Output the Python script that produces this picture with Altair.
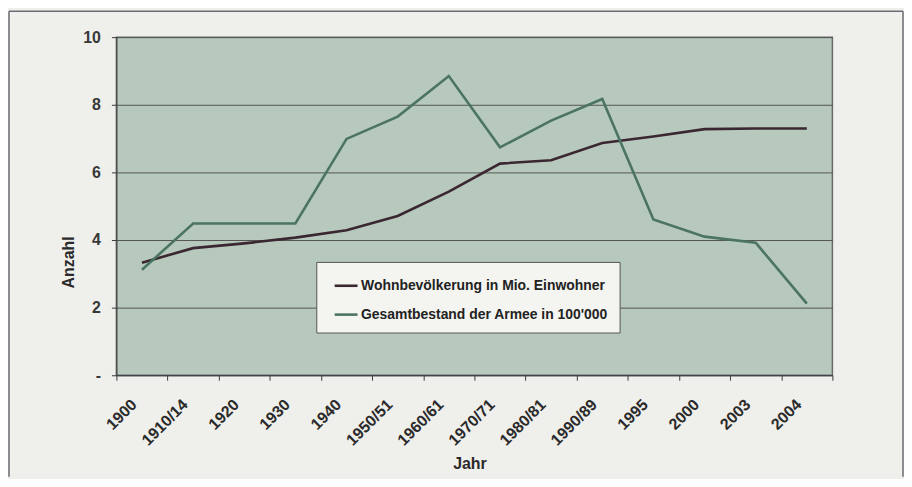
import altair as alt
import pandas as pd

years = ["1900", "1910/14", "1920", "1930", "1940", "1950/51", "1960/61",
         "1970/71", "1980/81", "1990/89", "1995", "2000", "2003", "2004"]
bevoelkerung = [3.33, 3.76, 3.90, 4.07, 4.29, 4.71, 5.43, 6.26, 6.36, 6.87, 7.06, 7.28, 7.30, 7.30]
armee = [3.12, 4.49, 4.49, 4.49, 6.99, 7.65, 8.85, 6.74, 7.53, 8.17, 4.61, 4.10, 3.92, 2.12]
series_names = ["Wohnbevölkerung in Mio. Einwohner", "Gesamtbestand der Armee in 100'000"]
series_colors = ["#3a2731", "#4b7462"]
y_ticks = [0, 2, 4, 6, 8, 10]

rows = []
for name, vals in zip(series_names, [bevoelkerung, armee]):
    for yr, v in zip(years, vals):
        rows.append({"Jahr": yr, "Anzahl": v, "Serie": name})
df = pd.DataFrame(rows)

FONT = "Liberation Sans"

lines = alt.Chart(df).mark_line(strokeWidth=2.6).encode(
    x=alt.X("Jahr:N", sort=years,
            scale=alt.Scale(type="band", paddingInner=0, paddingOuter=0),
            axis=alt.Axis(title="Jahr", labelAngle=-45, labelAlign="right",
                          labelBaseline="top", labelPadding=16, labelOffset=-14,
                          tickBand="extent", tickSize=5, grid=False,
                          domainColor="#3a3a4a", tickColor="#3a3a3a",
                          labelFont=FONT, labelFontSize=16, labelFontWeight="bold",
                          labelColor="#2a2a2a", titleFont=FONT, titleFontSize=16,
                          titleFontWeight="bold", titleColor="#2a2a2a",
                          titleX=355, titleY=89, titleAlign="center",
                          titleBaseline="middle")),
    y=alt.Y("Anzahl:Q", scale=alt.Scale(domain=[0, 10], nice=False),
            axis=alt.Axis(title="Anzahl", values=y_ticks,
                          labelExpr="datum.value == 0 ? '-' : datum.label",
                          tickSize=5, labelPadding=11, grid=True,
                          gridColor="#555555", gridWidth=1, domainColor="#3a3a3a",
                          tickColor="#3a3a3a", labelFont=FONT, labelFontSize=16,
                          labelFontWeight="bold", labelColor="#383838",
                          titleFont=FONT, titleFontSize=16, titleFontWeight="bold",
                          titleColor="#2a2a2a", titleX=-48, titleY=226,
                          titleAngle=-90, titleAlign="center",
                          titleBaseline="middle")),
    color=alt.Color("Serie:N", sort=series_names,
                    scale=alt.Scale(domain=series_names, range=series_colors),
                    legend=alt.Legend(title=None, orient="none", legendX=201,
                                      legendY=226, fillColor="#f4f4f0",
                                      strokeColor="#555555", padding=11,
                                      symbolType="stroke", symbolSize=529,
                                      symbolStrokeWidth=2.6, symbolOffset=6,
                                      labelOffset=2, rowPadding=9,
                                      labelFont=FONT, labelFontSize=14,
                                      labelFontWeight="bold", labelColor="#222222",
                                      labelLimit=400)),
)

frame_df = pd.DataFrame({"k": [0]})
frame_left = alt.Chart(frame_df).mark_rule(color="#6d6a72", strokeWidth=1.5).encode(
    x=alt.value(-108), y=alt.value(-26), y2=alt.value(442))
frame_right = alt.Chart(frame_df).mark_rule(color="#6d6a72", strokeWidth=1.5).encode(
    x=alt.value(791), y=alt.value(-26), y2=alt.value(442))
frame_top = alt.Chart(frame_df).mark_rule(color="#6d6a72", strokeWidth=1.5).encode(
    x=alt.value(-108), x2=alt.value(791), y=alt.value(-26))

chart = alt.layer(frame_left, frame_right, frame_top, lines).properties(
    width=720, height=340,
    background="#efefeb",
    padding={"left": 0, "top": 1, "right": 0, "bottom": 0},
).configure_view(fill="#b7c9bc", stroke="#6a6a6a", strokeWidth=1.5)

chart.save("out.html", embed_options={"renderer": "svg", "actions": False})
